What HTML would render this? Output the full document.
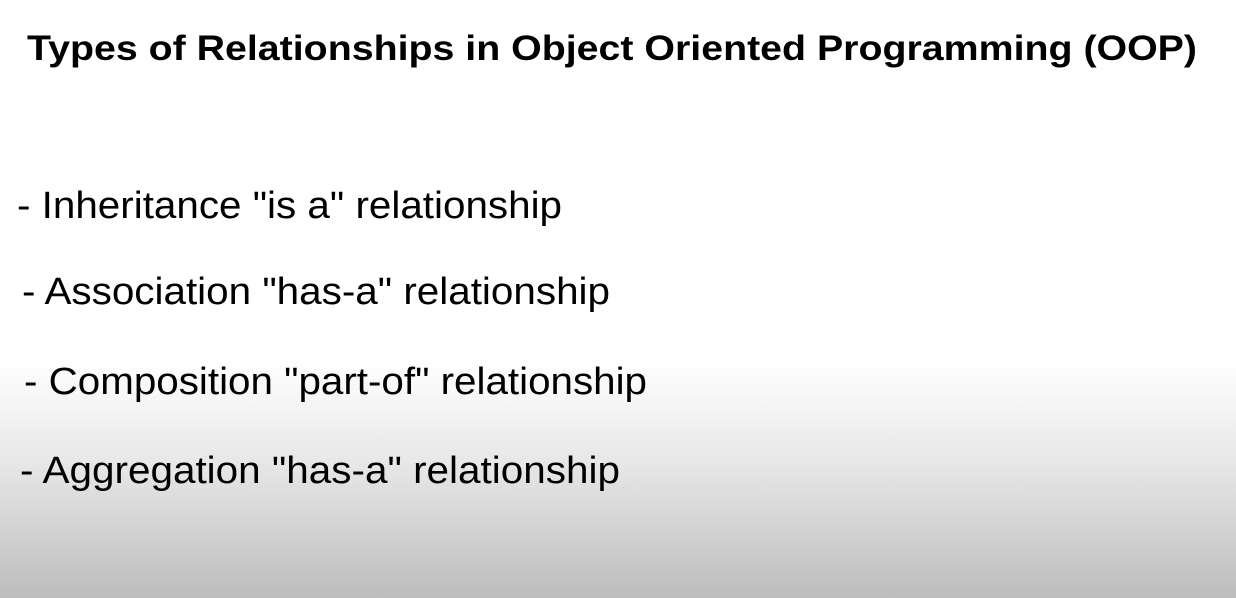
<!DOCTYPE html>
<html><head><style>
html,body{margin:0;padding:0}
body{width:1236px;height:598px;overflow:hidden;background:linear-gradient(to bottom,#fff 0px,#fff 360px,#e8e8e8 460px,#bdbdbd 598px);}
svg{position:absolute;left:0;top:0}
text{font-family:"Liberation Sans",Arial,sans-serif;fill:#000}
</style></head><body>
<svg width="1236" height="598">
<text x="27" y="60" font-size="35" font-weight="bold" textLength="1170" lengthAdjust="spacingAndGlyphs">Types of Relationships in Object Oriented Programming (OOP)</text>
<text x="17" y="218" font-size="38" textLength="545" lengthAdjust="spacingAndGlyphs">- Inheritance "is a" relationship</text>
<text x="22" y="304" font-size="38" textLength="588" lengthAdjust="spacingAndGlyphs">- Association "has-a" relationship</text>
<text x="24" y="394" font-size="38" textLength="623" lengthAdjust="spacingAndGlyphs">- Composition "part-of" relationship</text>
<text x="20" y="483" font-size="38" textLength="600" lengthAdjust="spacingAndGlyphs">- Aggregation "has-a" relationship</text>
</svg>
</body></html>
